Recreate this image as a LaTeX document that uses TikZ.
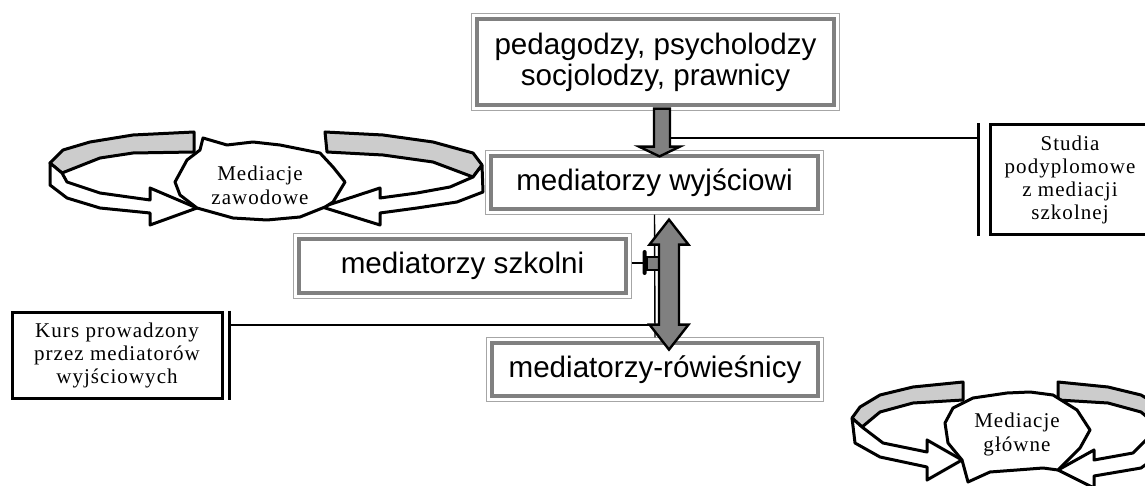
\documentclass[tikz,border=0pt]{standalone}
\usepackage{fontspec}
\setmainfont{Liberation Serif}
\newfontfamily\arialfont{Liberation Sans}
\newfontfamily\tmsfont[LetterSpace=5]{Liberation Serif}
\usepackage{tikz}
\usetikzlibrary{calc}
\usetikzlibrary{positioning}
\definecolor{framegray}{HTML}{808080}
\definecolor{rimgray}{HTML}{A6A6A6}
\definecolor{bandgray}{HTML}{CCCCCC}

\begin{document}
\begin{tikzpicture}[x=0.5pt, y=-0.5pt,
    dblbox/.style={draw=framegray, line width=1.6pt, fill=white, inner sep=0pt, align=center,
      font=\arialfont\fontsize{14.8}{15.5}\selectfont},
    rim/.style={draw=rimgray, line width=0.6pt},
    notebox/.style={draw, line width=1.5pt, fill=white, inner sep=0pt, align=center,
      font=\tmsfont\fontsize{10.5}{11.5}\selectfont},
    bar/.style={line width=1.5pt},
    conn/.style={line width=1pt},
    blockarrow/.style={draw, line width=1.2pt, fill=framegray, line join=miter},
    band/.style={draw, line width=1.5pt, line join=round},
    bubble/.style={draw, line width=1.5pt, fill=white, line join=round},
    bubbletext/.style={align=center, font=\tmsfont\fontsize{10.5}{12}\selectfont}]

    \useasboundingbox (0,0) rectangle (1145,486);
    \clip (0,0) rectangle (1145,486);

    \node[dblbox, minimum width=178.5pt, minimum height=43pt] (top) at (655.5,62) {pedagodzy, psycholodzy\\socjolodzy, prawnicy};
    \node[dblbox, minimum width=163.5pt, minimum height=26.5pt] (wyj) at (654.5,182.5) {mediatorzy wyjściowi};
    \node[dblbox, minimum width=163.5pt, minimum height=27pt] (szk) at (462.5,266) {mediatorzy szkolni};
    \node[dblbox, minimum width=163pt, minimum height=26.5pt] (row) at (655,369.5) {mediatorzy-rówieśnicy};
    \foreach \n in {top,wyj,szk,row}
      \draw[rim] ($(\n.south west)+(-4,4)$) rectangle ($(\n.north east)+(4,-4)$);

    \node[notebox, minimum width=85pt, minimum height=55pt] (stud) at (1075,180) {};
    \node[align=center, font=\tmsfont\fontsize{10.5}{11.5}\selectfont] (studtxt) at (1070,180) {Studia\\podyplomowe\\z mediacji\\szkolnej};
    \node[notebox, minimum width=105pt, minimum height=43pt] (kurs) at (117,355) {Kurs prowadzony\\przez mediatorów\\wyjściowych};

    \draw[blockarrow] ($(top.south)+(-1.5,2)$) -- ++(16,0) -- ++(0,38) -- ++(10,0)
      -- ($(wyj.north)+(5,2)$) -- ($(top.south)+(-16.5,40)$) -- ++(15,0) -- cycle;
    \coordinate (sa) at (670,138);
    \coordinate (sl) at (978,138);
    \draw[conn] (sa) -- (sl);
    \draw[bar] (sl |- stud.north) -- (sl |- stud.south);

    \coordinate (kl) at (229,325);
    \draw[bar] (kl |- kurs.north) -- (kl |- kurs.south);
    \draw[conn] (kl) -- (kl -| wyj.south);
    \draw[line width=0.7pt] ($(wyj.south)+(0,4)$) -- ($(row.north)+(0,-4)$);

    \draw[line width=0.7pt] ($(szk.east)+(4,-3)$) -- ++(11,0) coordinate (st);
    \fill[rounded corners=1pt] ($(st)+(0,-13)$) rectangle ($(st)+(4,12)$);
    \draw[blockarrow, line width=1pt] ($(st)+(4,-6)$) rectangle ($(st)+(18,7)$);

    \coordinate (da) at ($(wyj.south)+(14.5,9)$);
    \draw[blockarrow] (da) -- ++(19.5,25) -- ++(-9.5,0) -- ++(0,80) -- ++(9.5,0) -- ++(-19.5,25)
      -- ++(-19.5,-25) -- ++(9.5,0) -- ++(0,-80) -- ++(-9.5,0) -- cycle;

    % Mediacje zawodowe
    \draw[band, fill=bandgray] (194,132) -- (133,135) -- (90,142) -- (63,150) -- (50,163) -- (62,173)
      -- (100,158) -- (133,153) -- (194,152) -- cycle;
    \draw[band, fill=white] (50,163) -- (50,185) -- (67,198) -- (100,208) -- (150,213) -- (150,225)
      -- (197,208) -- (150,188) -- (150,200) -- (100,193) -- (67,182) -- (62,173) -- cycle;
    \draw[band, fill=bandgray] (325,132) -- (383,135) -- (433,142) -- (473,153) -- (482,165) -- (473,177)
      -- (433,162) -- (383,155) -- (327,152) -- cycle;
    \draw[band, fill=white] (482,165) -- (483,192) -- (457,202) -- (417,208) -- (380,213) -- (380,225)
      -- (322,207) -- (380,188) -- (380,198) -- (417,193) -- (450,187) -- (473,177) -- cycle;
    \draw[bubble] (175,182) -- (187,160) -- (200,150) -- (203,138) -- (227,145) -- (253,142) -- (280,145)
      -- (320,153) -- (333,167) -- (345,182) -- (333,202) -- (325,207) -- (300,217) -- (267,220)
      -- (233,218) -- (197,208) -- (180,195) -- cycle;
    \node[bubbletext] (mz) at (260,185) {Mediacje\\zawodowe};

    % Mediacje glowne
    \draw[band, fill=bandgray] (963,382) -- (913,387) -- (880,395) -- (860,407) -- (852,418) -- (862,427)
      -- (880,412) -- (913,403) -- (963,400) -- cycle;
    \draw[band, fill=white] (852,418) -- (855,443) -- (880,457) -- (927,467) -- (927,480) -- (962,460)
      -- (927,440) -- (927,452) -- (883,443) -- (862,427) -- cycle;
    \draw[band, fill=bandgray] (1058,382) -- (1108,387) -- (1141,395) -- (1161,407) -- (1169,418) -- (1159,427)
      -- (1141,412) -- (1108,403) -- (1058,400) -- cycle;
    \draw[band, fill=white] (1169,418) -- (1166,450) -- (1141,468) -- (1094,476) -- (1094,488) -- (1058,470)
      -- (1094,450) -- (1094,460) -- (1133,453) -- (1159,427) -- cycle;
    \draw[bubble] (945,423) -- (953,408) -- (973,398) -- (1007,393) -- (1030,392) -- (1053,395) -- (1077,410)
      -- (1090,430) -- (1080,448) -- (1058,470) -- (1043,468) -- (1017,470) -- (990,472) -- (968,482)
      -- (962,460) -- (948,443) -- cycle;
    \node[bubbletext] (mg) at (1017,434) {Mediacje\\główne};

  \end{tikzpicture}
\end{document}
